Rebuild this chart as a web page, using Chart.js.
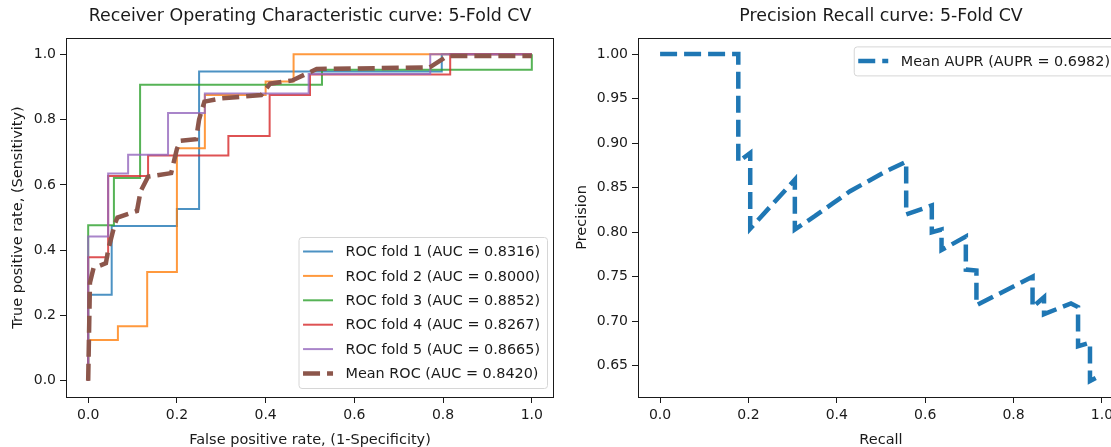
<!DOCTYPE html>
<html>
<head>
<meta charset="utf-8">
<script src="https://cdn.jsdelivr.net/npm/chart.js@4.4.0/dist/chart.umd.min.js"></script>
<style>
  html, body { margin: 0; padding: 0; background: #fff; overflow: hidden; width: 1111px; height: 447px; }
  canvas { position: absolute; top: 0; }
  #rocChart { left: 0; }
  #prChart { left: 570px; }
</style>
</head>
<body>
<canvas id="rocChart" width="575" height="460"></canvas>
<canvas id="prChart" width="575" height="460"></canvas>
<script>
// ROC step curves for each fold
const fprFold1 = [0, 0, 0.053, 0.053, 0.2, 0.2, 0.25, 0.25, 0.797, 0.797, 1.0];
const tprFold1 = [0, 0.263, 0.263, 0.474, 0.474, 0.526, 0.526, 0.947, 0.947, 1.0, 1.0];

const fprFold2 = [0, 0, 0.067, 0.067, 0.133, 0.133, 0.2, 0.2, 0.263, 0.263, 0.4, 0.4, 0.463, 0.463, 1.0];
const tprFold2 = [0, 0.125, 0.125, 0.167, 0.167, 0.333, 0.333, 0.712, 0.712, 0.875, 0.875, 0.917, 0.917, 1.0, 1.0];

const fprFold3 = [0, 0, 0.058, 0.058, 0.117, 0.117, 0.527, 0.527, 1.0, 1.0];
const tprFold3 = [0, 0.476, 0.476, 0.621, 0.621, 0.907, 0.907, 0.953, 0.953, 1.0];

const fprFold4 = [0, 0, 0.045, 0.045, 0.135, 0.135, 0.316, 0.316, 0.409, 0.409, 0.5, 0.5, 0.816, 0.816, 1.0];
const tprFold4 = [0, 0.378, 0.378, 0.627, 0.627, 0.69, 0.69, 0.75, 0.75, 0.875, 0.875, 0.938, 0.938, 1.0, 1.0];

const fprFold5 = [0, 0, 0.045, 0.045, 0.09, 0.09, 0.18, 0.18, 0.263, 0.263, 0.497, 0.497, 0.771, 0.771, 1.0];
const tprFold5 = [0, 0.442, 0.442, 0.635, 0.635, 0.692, 0.692, 0.82, 0.82, 0.88, 0.88, 0.94, 0.94, 1.0, 1.0];

const fprMean = [0, 0.004, 0.012, 0.04, 0.045, 0.06, 0.066, 0.11, 0.118, 0.135, 0.187, 0.2, 0.208, 0.243, 0.25, 0.262, 0.3, 0.39, 0.41, 0.46, 0.515, 0.77, 0.81, 1.0];
const tprMean = [0, 0.3, 0.345, 0.36, 0.4, 0.48, 0.5, 0.52, 0.58, 0.625, 0.636, 0.71, 0.735, 0.74, 0.8, 0.855, 0.865, 0.875, 0.91, 0.92, 0.955, 0.96, 0.995, 0.995];

const rocLabels = [
  "ROC fold 1 (AUC = 0.8316)",
  "ROC fold 2 (AUC = 0.8000)",
  "ROC fold 3 (AUC = 0.8852)",
  "ROC fold 4 (AUC = 0.8267)",
  "ROC fold 5 (AUC = 0.8665)",
  "Mean ROC (AUC = 0.8420)"
];

// mean precision-recall curve
const recallMean = [0, 0.177, 0.177, 0.204, 0.204, 0.305, 0.305, 0.35, 0.39, 0.43, 0.47, 0.51, 0.557, 0.557, 0.615, 0.615, 0.637, 0.637, 0.692, 0.692, 0.716, 0.716, 0.843, 0.843, 0.869, 0.869, 0.93, 0.946, 0.946, 0.973, 0.973, 1.0];
const precisionMean = [1.0, 1.0, 0.879, 0.889, 0.804, 0.859, 0.803, 0.818, 0.832, 0.846, 0.857, 0.868, 0.879, 0.82, 0.83, 0.80, 0.803, 0.78, 0.795, 0.758, 0.757, 0.718, 0.75, 0.716, 0.727, 0.708, 0.72, 0.716, 0.672, 0.676, 0.633, 0.64];
const prLabel = "Mean AUPR (AUPR = 0.6982)";

const unitTicks = [0, 0.2, 0.4, 0.6, 0.8, 1.0];
const precisionTicks = [0.65, 0.70, 0.75, 0.80, 0.85, 0.90, 0.95, 1.00];

Chart.defaults.font.family = '"DejaVu Sans", sans-serif';
Chart.defaults.color = '#1a1a1a';

const pts = (xs, ys) => xs.map((x, i) => ({x: x, y: ys[i]}));

function line(label, xs, ys, color, width, dash, order) {
  return {
    label: label,
    data: pts(xs, ys),
    borderColor: color,
    borderWidth: width,
    borderDash: dash,
    borderJoinStyle: 'miter',
    pointRadius: 0,
    tension: 0,
    fill: false,
    order: order
  };
}

function axis(min, max, ticks, digits, title, size, titlePad) {
  return {
    type: 'linear',
    min: min,
    max: max,
    afterBuildTicks: s => { s.ticks = ticks.map(v => ({value: v})); },
    afterFit: s => { if (s.isHorizontal()) s.height = size; else s.width = size; },
    ticks: {
      callback: v => v.toFixed(digits),
      font: {size: 14},
      color: '#1a1a1a',
      padding: 4,
      maxRotation: 0,
      autoSkip: false
    },
    grid: { display: true, drawOnChartArea: false, drawTicks: true, tickLength: 6, tickColor: '#1a1a1a' },
    border: { display: false },
    title: { display: true, text: title, font: {size: 14.5}, color: '#1a1a1a', padding: titlePad }
  };
}

// matplotlib-like frame, title and legend box
const decor = {
  id: 'decor',
  afterDatasetsDraw(chart, args, opts) {
    const ctx = chart.ctx, a = chart.chartArea;
    ctx.save();
    ctx.strokeStyle = '#1a1a1a';
    ctx.lineWidth = 1;
    ctx.strokeRect(a.left + 0.5, a.top + 0.5, a.right - a.left - 1, a.bottom - a.top);

    ctx.fillStyle = '#1a1a1a';
    ctx.font = opts.titleSize + 'px "DejaVu Sans"';
    ctx.textAlign = 'center';
    ctx.textBaseline = 'middle';
    ctx.fillText(opts.title, (a.left + a.right) / 2, 16);

    const fs = 14.4;
    ctx.font = fs + 'px "DejaVu Sans"';
    const items = chart.data.datasets;
    const textW = Math.max(...items.map(d => ctx.measureText(d.label).width));
    const step = 24.4;
    const w = 47 + textW + 7;
    const h = 29 + (items.length - 1) * step;
    const left = a.right - 7 - w;
    const top = opts.corner === 'lower' ? a.bottom - 9 - h : a.top + 8.4;

    ctx.beginPath();
    ctx.roundRect(left + 0.5, top + 0.5, w, h, 3);
    ctx.fillStyle = 'rgba(255,255,255,0.85)';
    ctx.fill();
    ctx.strokeStyle = '#d6d6d6';
    ctx.stroke();

    ctx.textAlign = 'left';
    items.forEach((d, i) => {
      const y = top + 14.5 + i * step;
      ctx.beginPath();
      ctx.setLineDash(d.borderDash || []);
      ctx.strokeStyle = d.borderColor;
      ctx.lineWidth = d.borderWidth;
      ctx.moveTo(left + 4.5, y);
      ctx.lineTo(left + 34.5, y);
      ctx.stroke();
      ctx.setLineDash([]);
      ctx.fillStyle = '#1a1a1a';
      ctx.fillText(d.label, left + 47, y + 1);
    });
    ctx.restore();
  }
};

const rocConfig = {
  type: 'line',
  data: {
    datasets: [
      line(rocLabels[0], fprFold1, tprFold1, 'rgba(31,119,180,0.8)', 2, [], 5),
      line(rocLabels[1], fprFold2, tprFold2, 'rgba(255,127,14,0.8)', 2, [], 4),
      line(rocLabels[2], fprFold3, tprFold3, 'rgba(44,160,44,0.8)', 2, [], 3),
      line(rocLabels[3], fprFold4, tprFold4, 'rgba(214,39,40,0.8)', 2, [], 2),
      line(rocLabels[4], fprFold5, tprFold5, 'rgba(148,103,189,0.8)', 2, [], 1),
      line(rocLabels[5], fprMean, tprMean, 'rgba(140,86,75,1)', 4.5, [17, 7], 0)
    ]
  },
  options: {
    responsive: false,
    animation: false,
    layout: { padding: { left: 0, right: 21, top: 38, bottom: 0 } },
    scales: {
      x: axis(-0.05, 1.05, unitTicks, 1, 'False positive rate, (1-Specificity)', 63, {top: 4, bottom: 11.4}),
      y: axis(-0.05, 1.05, unitTicks, 1, 'True positive rate, (Sensitivity)', 66, {top: 9.4, bottom: 4})
    },
    plugins: {
      legend: { display: false },
      title: { display: false },
      tooltip: { enabled: false },
      decor: { title: 'Receiver Operating Characteristic curve: 5-Fold CV', titleSize: 17.4, corner: 'lower' }
    }
  },
  plugins: [decor]
};

const prConfig = {
  type: 'line',
  data: {
    datasets: [
      line(prLabel, recallMean, precisionMean, '#1f77b4', 4.5, [17, 7], 0)
    ]
  },
  options: {
    responsive: false,
    animation: false,
    layout: { padding: { left: 0, right: 21, top: 38, bottom: 0 } },
    scales: {
      x: axis(-0.05, 1.05, unitTicks, 1, 'Recall', 63, {top: 4, bottom: 11.4}),
      y: axis(0.615, 1.018, precisionTicks, 2, 'Precision', 68, {top: 4, bottom: 4})
    },
    plugins: {
      legend: { display: false },
      title: { display: false },
      tooltip: { enabled: false },
      decor: { title: 'Precision Recall curve: 5-Fold CV', titleSize: 17.4, corner: 'upper' }
    }
  },
  plugins: [decor]
};

window.onload = function () {
  new Chart(document.getElementById('rocChart'), rocConfig);
  new Chart(document.getElementById('prChart'), prConfig);
};
</script>
</body>
</html>
